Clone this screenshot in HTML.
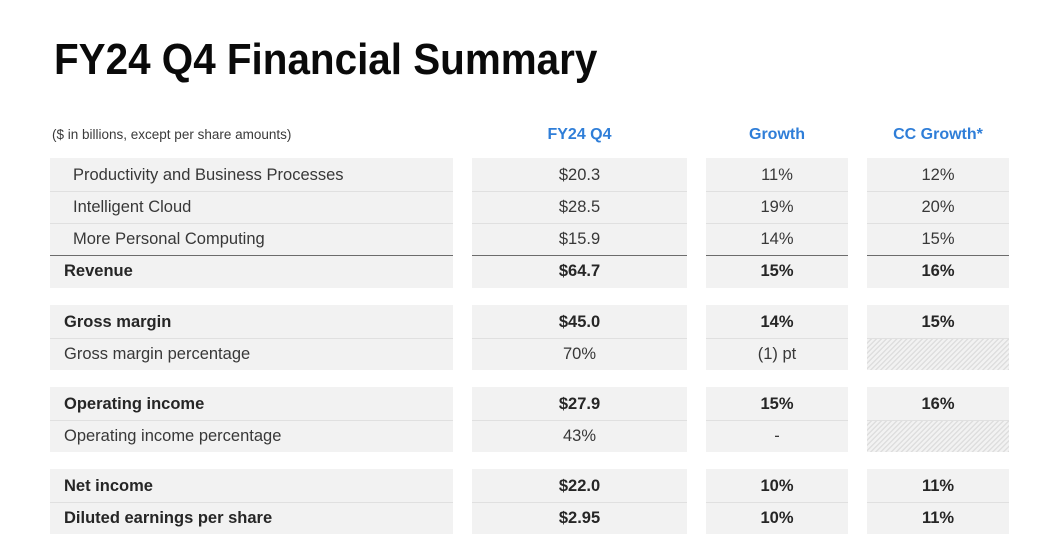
<!DOCTYPE html>
<html>
<head>
<meta charset="utf-8">
<style>
  html, body { margin:0; padding:0; }
  body { width:1049px; height:558px; background:#fff; position:relative; overflow:hidden;
         font-family:"Liberation Sans", Arial, sans-serif; }
  .abs { position:absolute; }
  .title { left:54px; top:38.6px; font-size:43.3px; line-height:43.3px; font-weight:bold; color:#0a0a0a;
           white-space:nowrap; transform:scaleX(0.933); transform-origin:0 0; }
  .note { left:52px; top:125.3px; font-size:13.5px; line-height:20px; color:#3a3a3a; white-space:nowrap; }
  .hdr { top:124.5px; font-size:16px; line-height:20px; font-weight:bold; color:#2f7ed8; text-align:center; white-space:nowrap; }
  .cell { position:absolute; background:#f2f2f2; box-sizing:border-box; height:32.5px;
          font-size:16.5px; line-height:32.5px; padding-top:1px; color:#383838; white-space:nowrap; }
  .c0 { left:50px; width:403px; }
  .c1 { left:472px; width:215px; text-align:center; }
  .c2 { left:706px; width:142px; text-align:center; }
  .c3 { left:867px; width:142px; text-align:center; }
  .b { font-weight:bold; color:#262626; }
  .ind { padding-left:23px; }
  .lab { padding-left:14px; }
  .sep { border-top:1px solid #e0e0e0; padding-top:0; line-height:31.5px; }
  .dark { border-top:1.5px solid #6c6c6c; padding-top:0; line-height:31.5px; }
  .hatch { background: repeating-linear-gradient(135deg, #f2f2f2 0px, #f2f2f2 2.2px, #dedede 2.2px, #dedede 3.6px); }
</style>
</head>
<body>
  <div class="abs title">FY24 Q4 Financial Summary</div>
  <div class="abs note">($ in billions, except per share amounts)</div>
  <div class="abs hdr" style="left:472px;width:215px;">FY24 Q4</div>
  <div class="abs hdr" style="left:706px;width:142px;">Growth</div>
  <div class="abs hdr" style="left:867px;width:142px;">CC Growth*</div>

  <!-- Group 1 -->
  <div class="cell c0 ind" style="top:158px;">Productivity and Business Processes</div>
  <div class="cell c1" style="top:158px;">$20.3</div>
  <div class="cell c2" style="top:158px;">11%</div>
  <div class="cell c3" style="top:158px;">12%</div>

  <div class="cell c0 ind sep" style="top:190.5px;">Intelligent Cloud</div>
  <div class="cell c1 sep" style="top:190.5px;">$28.5</div>
  <div class="cell c2 sep" style="top:190.5px;">19%</div>
  <div class="cell c3 sep" style="top:190.5px;">20%</div>

  <div class="cell c0 ind sep" style="top:223px;">More Personal Computing</div>
  <div class="cell c1 sep" style="top:223px;">$15.9</div>
  <div class="cell c2 sep" style="top:223px;">14%</div>
  <div class="cell c3 sep" style="top:223px;">15%</div>

  <div class="cell c0 lab b dark" style="top:255px;height:32.5px;">Revenue</div>
  <div class="cell c1 b dark" style="top:255px;">$64.7</div>
  <div class="cell c2 b dark" style="top:255px;">15%</div>
  <div class="cell c3 b dark" style="top:255px;">16%</div>

  <!-- Group 2 -->
  <div class="cell c0 lab b" style="top:305px;">Gross margin</div>
  <div class="cell c1 b" style="top:305px;">$45.0</div>
  <div class="cell c2 b" style="top:305px;">14%</div>
  <div class="cell c3 b" style="top:305px;">15%</div>

  <div class="cell c0 lab sep" style="top:337.5px;">Gross margin percentage</div>
  <div class="cell c1 sep" style="top:337.5px;">70%</div>
  <div class="cell c2 sep" style="top:337.5px;">(1) pt</div>
  <div class="cell c3 sep hatch" style="top:337.5px;"></div>

  <!-- Group 3 -->
  <div class="cell c0 lab b" style="top:387px;">Operating income</div>
  <div class="cell c1 b" style="top:387px;">$27.9</div>
  <div class="cell c2 b" style="top:387px;">15%</div>
  <div class="cell c3 b" style="top:387px;">16%</div>

  <div class="cell c0 lab sep" style="top:419.5px;">Operating income percentage</div>
  <div class="cell c1 sep" style="top:419.5px;">43%</div>
  <div class="cell c2 sep" style="top:419.5px;">-</div>
  <div class="cell c3 sep hatch" style="top:419.5px;"></div>

  <!-- Group 4 -->
  <div class="cell c0 lab b" style="top:469px;">Net income</div>
  <div class="cell c1 b" style="top:469px;">$22.0</div>
  <div class="cell c2 b" style="top:469px;">10%</div>
  <div class="cell c3 b" style="top:469px;">11%</div>

  <div class="cell c0 lab b sep" style="top:501.5px;">Diluted earnings per share</div>
  <div class="cell c1 b sep" style="top:501.5px;">$2.95</div>
  <div class="cell c2 b sep" style="top:501.5px;">10%</div>
  <div class="cell c3 b sep" style="top:501.5px;">11%</div>
</body>
</html>
